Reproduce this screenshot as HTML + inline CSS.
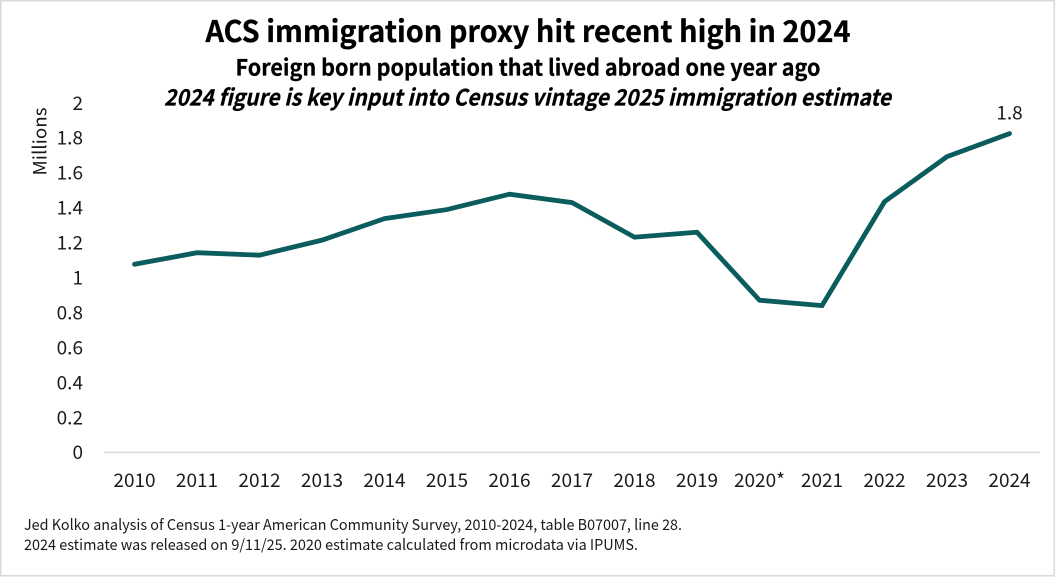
<!DOCTYPE html>
<html lang="en">
<head>
<meta charset="utf-8">
<title>ACS immigration proxy hit recent high in 2024</title>
<style>
html,body{margin:0;padding:0;background:#fff;width:1056px;height:577px;overflow:hidden}
svg{display:block}
text{font-family:"Noto Sans CJK JP","Liberation Sans",sans-serif;fill:#1a1a1a}
</style>
</head>
<body>
<svg id="chart" xmlns="http://www.w3.org/2000/svg" width="1056" height="577" viewBox="0 0 1056 577">
  <rect x="0.75" y="0.75" width="1053.5" height="575" fill="#fff" stroke="#d9d9d9" stroke-width="1.5"/>
  <text x="528" y="42" text-anchor="middle" font-size="29.5" font-weight="700" style="fill:#000;stroke:#000;stroke-width:0.3" textLength="645" lengthAdjust="spacingAndGlyphs">ACS immigration proxy hit recent high in 2024</text>
  <text x="528" y="75.5" text-anchor="middle" font-size="22.5" font-weight="700" style="fill:#000;stroke:#000;stroke-width:0.25" textLength="585" lengthAdjust="spacingAndGlyphs">Foreign born population that lived abroad one year ago</text>
  <text x="527.5" y="105.5" text-anchor="middle" font-size="22.5" font-weight="700" font-style="italic" style="fill:#000;stroke:#000;stroke-width:0.25" textLength="727" lengthAdjust="spacingAndGlyphs">2024 figure is key input into Census vintage 2025 immigration estimate</text>
  <text transform="translate(46.5 141.5) rotate(-90)" text-anchor="middle" font-size="18.5" textLength="68" lengthAdjust="spacingAndGlyphs">Millions</text>
  <g id="y-ticks"></g>
  <line id="x-axis" x1="104" x2="1040" y1="452.4" y2="452.4" stroke="#d9d9d9" stroke-width="1.5"/>
  <g id="x-ticks"></g>
  <path id="series" fill="none" stroke="#0b5c5c" stroke-width="4.8" stroke-linejoin="miter" stroke-linecap="round"/>
  <text id="end-label" text-anchor="middle" font-size="19"></text>
  <text x="24" y="530" font-size="14.8" textLength="658" lengthAdjust="spacingAndGlyphs">Jed Kolko analysis of Census 1-year American Community Survey, 2010-2024, table B07007, line 28.</text>
  <text x="24" y="550" font-size="14.8" textLength="614" lengthAdjust="spacingAndGlyphs">2024 estimate was released on 9/11/25. 2020 estimate calculated from microdata via IPUMS.</text>
</svg>
<script>
const categories = ["2010","2011","2012","2013","2014","2015","2016","2017","2018","2019","2020*","2021","2022","2023","2024"];
const seriesValues = [1.077,1.143,1.129,1.215,1.338,1.39,1.478,1.43,1.232,1.26,0.871,0.84,1.435,1.693,1.825];
const yTickValues = [0,0.2,0.4,0.6,0.8,1,1.2,1.4,1.6,1.8,2];
const endLabelText = "1.8";

const SVG_NS = "http://www.w3.org/2000/svg";
function xScale(i){ return 134.5 + i * (1009.5 - 134.5) / (categories.length - 1); }
function yScale(v){ return 452.4 - v * (452.4 - 103) / 2; }

const yGroup = document.getElementById("y-ticks");
yTickValues.forEach(function(v){
  const t = document.createElementNS(SVG_NS, "text");
  
  
  t.setAttribute("x", 83);
  t.setAttribute("y", yScale(v) + 6.8);
  t.setAttribute("text-anchor", "end");
  t.setAttribute("font-size", "19");
  t.textContent = String(v);
  yGroup.appendChild(t);
});

const xGroup = document.getElementById("x-ticks");
categories.forEach(function(c, i){
  const t = document.createElementNS(SVG_NS, "text");
  
  
  t.setAttribute("x", xScale(i));
  t.setAttribute("y", 487);
  t.setAttribute("text-anchor", "middle");
  t.setAttribute("font-size", "19");
  t.textContent = c;
  xGroup.appendChild(t);
});

document.getElementById("series").setAttribute("d", seriesValues.map(function(v, i){
  return (i ? "L" : "M") + xScale(i).toFixed(2) + " " + yScale(v).toFixed(2);
}).join(" "));

const endLabel = document.getElementById("end-label");
const lastIndex = seriesValues.length - 1;
endLabel.setAttribute("x", xScale(lastIndex));
endLabel.setAttribute("y", yScale(seriesValues[lastIndex]) - 14);
endLabel.textContent = endLabelText;
</script>
</body>
</html>
